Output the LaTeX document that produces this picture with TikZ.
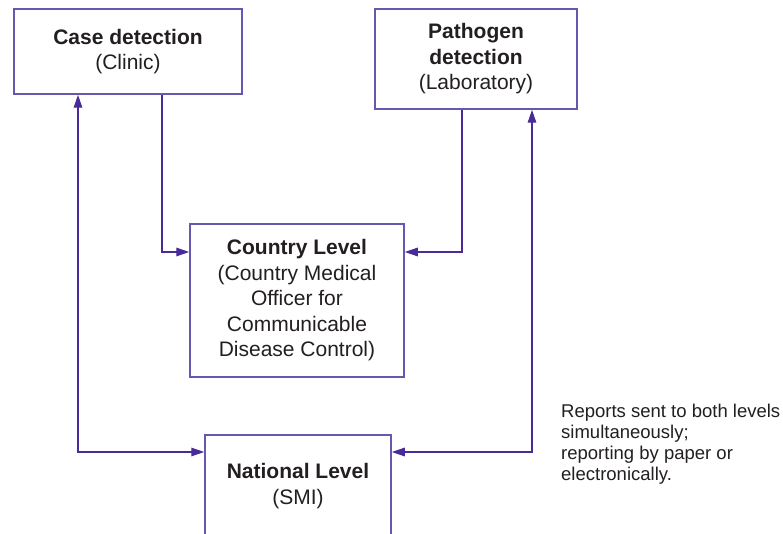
\documentclass[tikz,border=0pt]{standalone}
\usepackage{fontspec}
\setmainfont{Liberation Sans}
\usetikzlibrary{arrows.meta}
\definecolor{linkc}{RGB}{72,42,152}
\definecolor{boxc}{RGB}{104,86,176}
\definecolor{txt}{RGB}{35,31,32}
\tikzset{
  box/.style={draw=boxc, line width=1.5pt, rectangle, inner sep=0pt, align=center, text=txt,
    font=\fontsize{21}{25.5}\selectfont},
  tip/.tip={Triangle[length=13pt,width=8.5pt]},
  link/.style={draw=linkc, line width=1.4pt, -tip},
  both/.style={draw=linkc, line width=1.4pt, tip-tip},
  note/.style={align=left, text=txt, inner sep=0pt, font=\fontsize{18.5}{21}\selectfont}
}
\begin{document}
\begin{tikzpicture}[x=1pt,y=-1pt]
\clip (0,0) rectangle (783,534);
\fill[white] (0,0) rectangle (783,534);
\node[box, minimum width=228pt, minimum height=85pt] (case) at (128,51.5)
  {\textbf{Case detection}\\(Clinic)};
\node[box, minimum width=202pt, minimum height=100pt] (path) at (476,59)
  {\textbf{Pathogen}\\\textbf{detection}\\(Laboratory)};
\node[box, minimum width=214pt, minimum height=153pt] (country) at (297,300.5)
  {\textbf{Country Level}\\(Country Medical\\Officer for\\Communicable\\Disease Control)};
\node[box, minimum width=186pt, minimum height=125pt] (national) at (298,497.5) {};
\node[box, draw=none] (nattext) at (298,486) {\textbf{National Level}\\(SMI)};
\coordinate (k1) at (162,252);
\coordinate (k2) at (462,252);
\coordinate (k3) at (78,452);
\coordinate (k4) at (532,452);
\draw[link] (case.south -| k1) |- (k1 -| country.west);
\draw[link] (path.south -| k2) |- (k2 -| country.east);
\draw[both] (case.south -| k3) |- (k3 -| national.west);
\draw[both] (path.south -| k4) |- (k4 -| national.east);
\node[note, anchor=west] (rep) at (561,444)
  {Reports sent to both levels\\simultaneously;\\reporting by paper or\\electronically.};
\end{tikzpicture}
\end{document}
